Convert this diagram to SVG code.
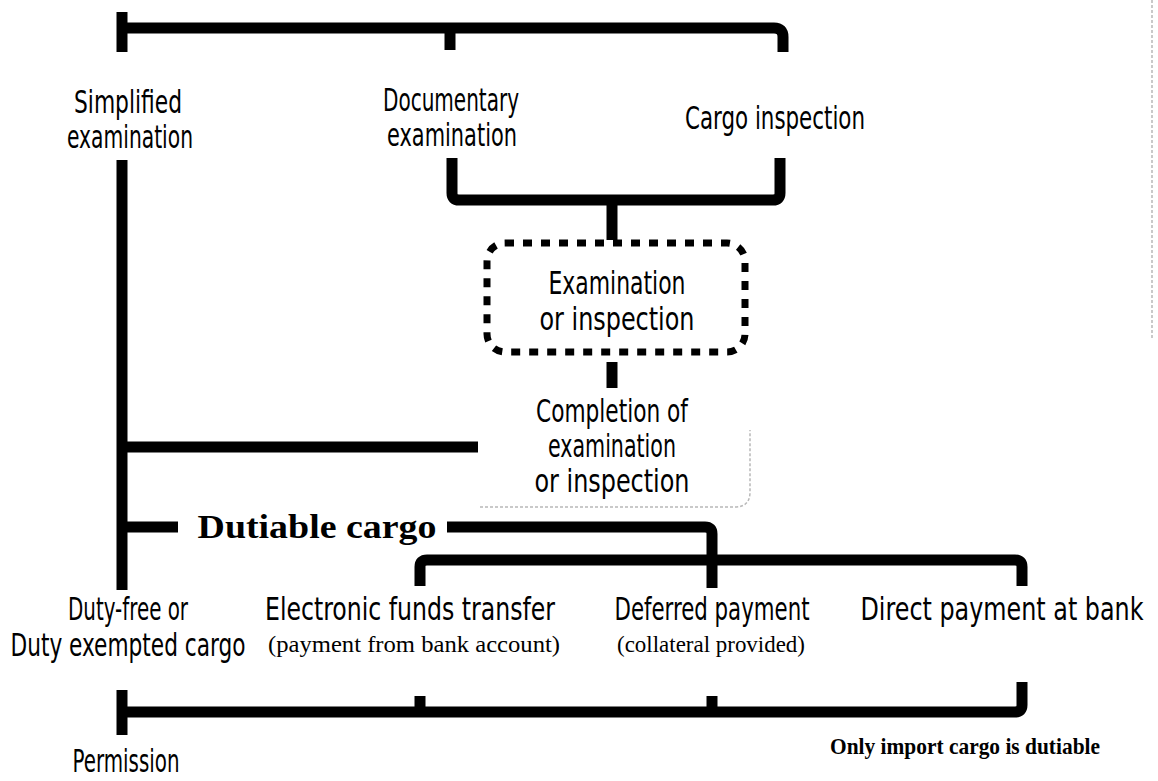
<svg xmlns="http://www.w3.org/2000/svg" width="1158" height="781" viewBox="0 0 1158 781">
  <style>
    .bar { fill: none; stroke: #000; stroke-width: 11; stroke-linecap: butt; stroke-linejoin: round; }
    .dots { fill: none; stroke: #000; stroke-width: 7; stroke-dasharray: 9 9; }
    .faint { fill: none; stroke: #b8b8b8; stroke-width: 1.5; stroke-dasharray: 3 2; }
    .lbl { font-family: "DejaVu Sans Condensed", "DejaVu Sans", sans-serif; font-size: 32px; fill: #000; text-anchor: middle; }
    .note { font-family: "Liberation Serif", "Times New Roman", serif; font-size: 24px; fill: #000; text-anchor: middle; }
    .head { font-family: "Liberation Serif", "Times New Roman", serif; font-weight: bold; fill: #000; text-anchor: middle; }
  </style>
  <rect width="1158" height="781" fill="#fff"/>

  <!-- connectors -->
  <g id="connectors">
    <!-- top bracket over the three examination routes -->
    <path class="bar" d="M122,12 V52"/>
    <path class="bar" d="M122,28 H774 Q783,28 783,37 V52"/>
    <path class="bar" d="M450,28 V50"/>
    <!-- documentary / cargo bracket -->
    <path class="bar" d="M452,158 V193 Q452,200 459,200 H773 Q780,200 780,193 V158"/>
    <path class="bar" d="M612,200 V240"/>
    <!-- box to completion -->
    <path class="bar" d="M612,362 V388"/>
    <!-- main left trunk -->
    <path class="bar" d="M122,160 V590"/>
    <path class="bar" d="M122,447 H478"/>
    <!-- dutiable cargo branch -->
    <path class="bar" d="M122,527 H178"/>
    <path class="bar" d="M447,527 H705 Q712,527 712,534 V588"/>
    <!-- payment method bracket -->
    <path class="bar" d="M420,586 V567 Q420,560 427,560 H1015 Q1022,560 1022,567 V586"/>
    <!-- bottom bracket to permission -->
    <path class="bar" d="M122,690 V735"/>
    <path class="bar" d="M122,712 H1015 Q1022,712 1022,705 V682"/>
    <path class="bar" d="M420,712 V696"/>
    <path class="bar" d="M712,712 V696"/>
  </g>

  <g id="simplified">
    <text class="lbl" x="128" y="113" textLength="108" lengthAdjust="spacingAndGlyphs">Simplified</text>
    <text class="lbl" x="130" y="148" textLength="126" lengthAdjust="spacingAndGlyphs">examination</text>
  </g>
  <g id="documentary">
    <text class="lbl" x="451" y="111" textLength="136" lengthAdjust="spacingAndGlyphs">Documentary</text>
    <text class="lbl" x="452" y="146" textLength="130" lengthAdjust="spacingAndGlyphs">examination</text>
  </g>
  <g id="cargo-inspection">
    <text class="lbl" x="775" y="129" textLength="180" lengthAdjust="spacingAndGlyphs">Cargo inspection</text>
  </g>
  <g id="examination-box">
    <rect class="dots" x="487" y="243" width="258" height="109" rx="18"/>
    <text class="lbl" x="617" y="294" textLength="137" lengthAdjust="spacingAndGlyphs">Examination</text>
    <text class="lbl" x="617" y="330" textLength="155" lengthAdjust="spacingAndGlyphs">or inspection</text>
  </g>
  <g id="completion">
    <path class="faint" d="M480,507 H735 Q750,507 750,492 V430"/>
    <text class="lbl" x="612" y="422" textLength="152" lengthAdjust="spacingAndGlyphs">Completion of</text>
    <text class="lbl" x="612" y="457" textLength="128" lengthAdjust="spacingAndGlyphs">examination</text>
    <text class="lbl" x="612" y="492" textLength="155" lengthAdjust="spacingAndGlyphs">or inspection</text>
  </g>
  <g id="dutiable">
    <text class="head" x="317" y="538" font-size="33" textLength="239" lengthAdjust="spacingAndGlyphs">Dutiable cargo</text>
  </g>
  <g id="duty-free">
    <text class="lbl" x="128" y="620" textLength="120" lengthAdjust="spacingAndGlyphs">Duty-free or</text>
    <text class="lbl" x="128" y="656" textLength="235" lengthAdjust="spacingAndGlyphs">Duty exempted cargo</text>
  </g>
  <g id="electronic-transfer">
    <text class="lbl" x="410" y="620" textLength="290" lengthAdjust="spacingAndGlyphs">Electronic funds transfer</text>
    <text class="note" x="414" y="652" textLength="292" lengthAdjust="spacingAndGlyphs">(payment from bank account)</text>
  </g>
  <g id="deferred-payment">
    <text class="lbl" x="712" y="620" textLength="195" lengthAdjust="spacingAndGlyphs">Deferred payment</text>
    <text class="note" x="711" y="652" textLength="188" lengthAdjust="spacingAndGlyphs">(collateral provided)</text>
  </g>
  <g id="direct-payment">
    <text class="lbl" x="1002" y="620" textLength="283" lengthAdjust="spacingAndGlyphs">Direct payment at bank</text>
  </g>
  <g id="import-note">
    <text class="head" x="965" y="754" font-size="23" textLength="270" lengthAdjust="spacingAndGlyphs">Only import cargo is dutiable</text>
  </g>
  <g id="permission">
    <text class="lbl" x="126" y="772" textLength="107" lengthAdjust="spacingAndGlyphs">Permission</text>
  </g>

  <!-- page edge -->
  <path class="faint" d="M1152,0 V340"/>
</svg>
